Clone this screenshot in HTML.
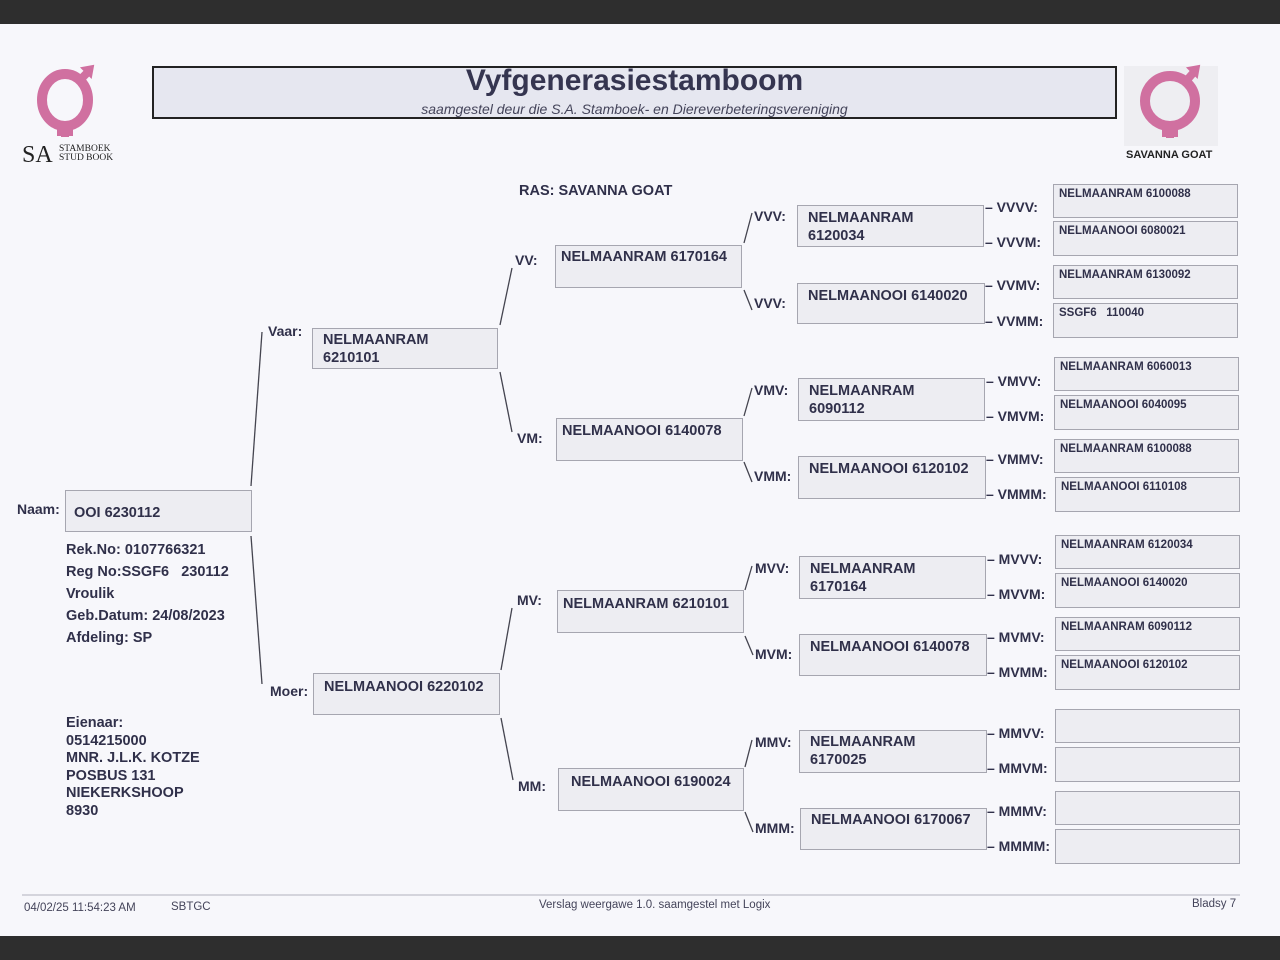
<!DOCTYPE html>
<html><head><meta charset="utf-8"><style>
*{margin:0;padding:0;box-sizing:border-box}
body{width:1280px;height:960px;background:#f7f7fb;position:relative;overflow:hidden;font-family:"Liberation Sans",Arial,sans-serif;color:#30304a;font-weight:bold}
.bar{position:absolute;left:0;width:1280px;background:#2e2e2e}
.b{position:absolute;background:#ededf2;border:1px solid #a6a6b0;font-size:14.5px;padding:8px 0 0 10px;line-height:18px}
.s{position:absolute;background:#ededf2;border:1px solid #a6a6b0;font-size:11.5px;padding:2px 0 0 5px;line-height:14px}
.l{position:absolute;font-size:14px;white-space:nowrap}
.t{position:absolute;font-size:14.5px;line-height:22px}
.f{position:absolute;font-size:11.5px;font-weight:normal;color:#44445a}
svg{position:absolute;left:0;top:0}
</style></head><body>
<div class="bar" style="top:0;height:24px"></div>
<div class="bar" style="top:936px;height:24px"></div>

<svg width="1280" height="960">
<rect x="1124" y="66" width="94" height="80" fill="#eeeef2"/>
<g fill="none" stroke="#d070a0" stroke-width="10">
<ellipse cx="65" cy="100" rx="23" ry="26"/>
<circle cx="1170" cy="101" r="25"/>
</g>
<g stroke="#d070a0" stroke-width="8" fill="#d070a0">
<line x1="65" y1="125" x2="65" y2="137"/><line x1="57" y1="132" x2="73" y2="132"/>
<line x1="80" y1="80" x2="88" y2="72"/><polygon points="82,68 93,66 91,77" stroke-width="2"/>
<line x1="1170" y1="125" x2="1170" y2="138"/><line x1="1162" y1="133" x2="1178" y2="133"/>
<line x1="1187" y1="80" x2="1194" y2="72"/><polygon points="1188,68 1199,66 1197,77" stroke-width="2"/>
</g>
<rect x="153" y="67" width="963" height="51" fill="#e6e7f0" stroke="#222" stroke-width="2"/>
<g stroke="#44444f" stroke-width="1.3">
<line x1="262" y1="332" x2="251" y2="486"/><line x1="251" y1="536" x2="262" y2="684"/>
<line x1="512" y1="268" x2="500" y2="325"/><line x1="500" y1="372" x2="512" y2="432"/>
<line x1="512" y1="608" x2="501" y2="670"/><line x1="501" y1="718" x2="513" y2="780"/>
<line x1="752" y1="213" x2="744" y2="243"/><line x1="744" y1="290" x2="752" y2="310"/>
<line x1="752" y1="388" x2="744" y2="416"/><line x1="744" y1="462" x2="752" y2="482"/>
<line x1="752" y1="566" x2="745" y2="590"/><line x1="745" y1="636" x2="753" y2="655"/>
<line x1="752" y1="740" x2="745" y2="767"/><line x1="745" y1="812" x2="753" y2="832"/>
</g>
<line x1="22" y1="895" x2="1240" y2="895" stroke="#c8c8d2" stroke-width="1.5"/>
</svg>

<div style="position:absolute;left:22px;top:142px;font-family:'Liberation Serif',serif;font-weight:normal;font-size:24px;color:#222">SA</div>
<div style="position:absolute;left:59px;top:145px;font-family:'Liberation Serif',serif;font-weight:normal;font-size:9.5px;line-height:9px;color:#222">STAMBOEK<br>STUD BOOK</div>
<div style="position:absolute;left:1126px;top:149px;font-size:11px;color:#222">SAVANNA GOAT</div>

<div style="position:absolute;left:153px;width:963px;top:64px;text-align:center;font-size:30px;color:#353550">Vyfgenerasiestamboom</div>
<div style="position:absolute;left:153px;width:963px;top:101px;text-align:center;font-size:14px;font-style:italic;font-weight:normal;color:#44445a">saamgestel deur die S.A. Stamboek- en Diereverbeteringsvereniging</div>

<div class="l" style="left:519px;top:183px;font-size:14.5px">RAS: SAVANNA GOAT</div>

<div class="l" style="left:17px;top:501px">Naam:</div>
<div class="b" style="left:65px;top:490px;width:187px;height:42px;padding-top:13px;padding-left:8px">OOI 6230112</div>
<div class="t" style="left:66px;top:539px">Rek.No: 0107766321<br>Reg No:SSGF6&nbsp;&nbsp; 230112<br>Vroulik<br>Geb.Datum: 24/08/2023<br>Afdeling: SP</div>
<div class="t" style="left:66px;top:715px;line-height:17.5px">Eienaar:<br>0514215000<br>MNR. J.L.K. KOTZE<br>POSBUS 131<br>NIEKERKSHOOP<br>8930</div>

<div class="l" style="left:268px;top:323px">Vaar:</div>
<div class="b" style="left:312px;top:328px;width:186px;height:41px;padding-top:2px">NELMAANRAM<br>6210101</div>
<div class="l" style="left:270px;top:683px">Moer:</div>
<div class="b" style="left:313px;top:673px;width:187px;height:42px;padding-top:4px">NELMAANOOI 6220102</div>

<div class="l" style="left:515px;top:252px">VV:</div>
<div class="b" style="left:555px;top:245px;width:187px;height:43px;padding-top:2px;padding-left:5px">NELMAANRAM 6170164</div>
<div class="l" style="left:517px;top:430px">VM:</div>
<div class="b" style="left:556px;top:418px;width:187px;height:43px;padding-top:3px;padding-left:5px">NELMAANOOI 6140078</div>
<div class="l" style="left:517px;top:592px">MV:</div>
<div class="b" style="left:557px;top:590px;width:187px;height:43px;padding-top:4px;padding-left:5px">NELMAANRAM 6210101</div>
<div class="l" style="left:518px;top:778px">MM:</div>
<div class="b" style="left:558px;top:768px;width:186px;height:43px;padding-top:4px;padding-left:12px">NELMAANOOI 6190024</div>

<div class="l" style="left:754px;top:208px">VVV:</div>
<div class="b" style="left:797px;top:205px;width:187px;height:42px;padding-top:3px">NELMAANRAM<br>6120034</div>
<div class="l" style="left:754px;top:295px">VVV:</div>
<div class="b" style="left:797px;top:283px;width:188px;height:41px;padding-top:3px">NELMAANOOI 6140020</div>
<div class="l" style="left:754px;top:382px">VMV:</div>
<div class="b" style="left:798px;top:378px;width:187px;height:43px;padding-top:3px">NELMAANRAM<br>6090112</div>
<div class="l" style="left:754px;top:468px">VMM:</div>
<div class="b" style="left:798px;top:456px;width:188px;height:43px;padding-top:3px">NELMAANOOI 6120102</div>
<div class="l" style="left:755px;top:560px">MVV:</div>
<div class="b" style="left:799px;top:556px;width:187px;height:43px;padding-top:3px">NELMAANRAM<br>6170164</div>
<div class="l" style="left:755px;top:646px">MVM:</div>
<div class="b" style="left:799px;top:634px;width:188px;height:42px;padding-top:3px">NELMAANOOI 6140078</div>
<div class="l" style="left:755px;top:734px">MMV:</div>
<div class="b" style="left:799px;top:730px;width:188px;height:43px;padding-top:2px">NELMAANRAM<br>6170025</div>
<div class="l" style="left:755px;top:820px">MMM:</div>
<div class="b" style="left:800px;top:808px;width:187px;height:42px;padding-top:2px">NELMAANOOI 6170067</div>

<div class="l" style="left:985px;top:199px">– VVVV:</div>
<div class="l" style="left:985px;top:234px">– VVVM:</div>
<div class="l" style="left:985px;top:277px">– VVMV:</div>
<div class="l" style="left:985px;top:313px">– VVMM:</div>
<div class="l" style="left:986px;top:373px">– VMVV:</div>
<div class="l" style="left:986px;top:408px">– VMVM:</div>
<div class="l" style="left:986px;top:451px">– VMMV:</div>
<div class="l" style="left:986px;top:486px">– VMMM:</div>
<div class="l" style="left:987px;top:551px">– MVVV:</div>
<div class="l" style="left:987px;top:586px">– MVVM:</div>
<div class="l" style="left:987px;top:629px">– MVMV:</div>
<div class="l" style="left:987px;top:664px">– MVMM:</div>
<div class="l" style="left:987px;top:725px">– MMVV:</div>
<div class="l" style="left:987px;top:760px">– MMVM:</div>
<div class="l" style="left:987px;top:803px">– MMMV:</div>
<div class="l" style="left:987px;top:838px">– MMMM:</div>

<div class="s" style="left:1053px;top:184px;width:185px;height:34px">NELMAANRAM 6100088</div>
<div class="s" style="left:1053px;top:221px;width:185px;height:35px">NELMAANOOI 6080021</div>
<div class="s" style="left:1053px;top:265px;width:185px;height:34px">NELMAANRAM 6130092</div>
<div class="s" style="left:1053px;top:303px;width:185px;height:35px">SSGF6&nbsp;&nbsp; 110040</div>
<div class="s" style="left:1054px;top:357px;width:185px;height:34px">NELMAANRAM 6060013</div>
<div class="s" style="left:1054px;top:395px;width:185px;height:35px">NELMAANOOI 6040095</div>
<div class="s" style="left:1054px;top:439px;width:185px;height:34px">NELMAANRAM 6100088</div>
<div class="s" style="left:1055px;top:477px;width:185px;height:35px">NELMAANOOI 6110108</div>
<div class="s" style="left:1055px;top:535px;width:185px;height:34px">NELMAANRAM 6120034</div>
<div class="s" style="left:1055px;top:573px;width:185px;height:35px">NELMAANOOI 6140020</div>
<div class="s" style="left:1055px;top:617px;width:185px;height:34px">NELMAANRAM 6090112</div>
<div class="s" style="left:1055px;top:655px;width:185px;height:35px">NELMAANOOI 6120102</div>
<div class="s" style="left:1055px;top:709px;width:185px;height:34px"></div>
<div class="s" style="left:1055px;top:747px;width:185px;height:35px"></div>
<div class="s" style="left:1055px;top:791px;width:185px;height:34px"></div>
<div class="s" style="left:1055px;top:829px;width:185px;height:35px"></div>

<div class="f" style="left:24px;top:902px">04/02/25 11:54:23 AM</div>
<div class="f" style="left:171px;top:901px">SBTGC</div>
<div class="f" style="left:539px;top:899px">Verslag weergawe 1.0. saamgestel met Logix</div>
<div class="f" style="left:1192px;top:898px">Bladsy 7</div>
</body></html>
